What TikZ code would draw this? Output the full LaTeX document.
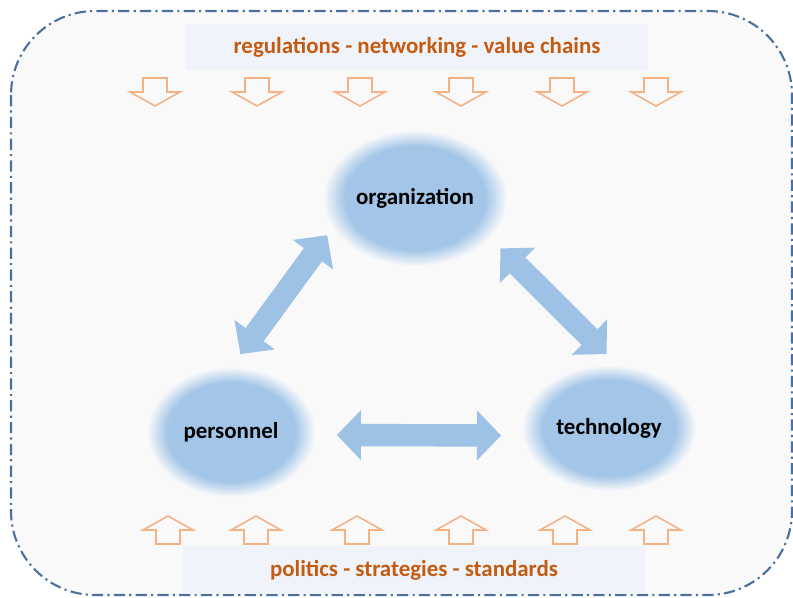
\documentclass[tikz,border=0pt]{standalone}
\usepackage{fontspec}
\setmainfont{Carlito}
\usepackage{tikz}
\usetikzlibrary{arrows.meta}
\usetikzlibrary{shapes.geometric}
\definecolor{paper}{RGB}{249,249,250}
\definecolor{bannerfill}{RGB}{240,244,250}
\definecolor{blobblue}{RGB}{162,197,232}
\definecolor{linkblue}{RGB}{157,194,230}
\definecolor{rim}{RGB}{75,112,155}
\definecolor{rust}{RGB}{197,90,17}
\definecolor{peach}{RGB}{244,177,131}
\pgfdeclareradialshading{blobfade}{\pgfpoint{0bp}{0bp}}{color(0bp)=(blobblue); color(19bp)=(blobblue); color(25bp)=(paper); color(50bp)=(paper)}

\begin{document}
\begin{tikzpicture}[
		x=0.025cm, y=-0.025cm,
		every node/.style={font=\bfseries\fontsize{16.3}{19}\selectfont},
		blob/.style={ellipse, shading=blobfade, inner sep=0pt, outer sep=0pt, text=black},
		banner/.style={fill=bannerfill, text=rust, minimum width=11.55cm, inner sep=0pt},
		link/.style={draw=linkblue, line width=0.56cm, {Triangle[length=0.6cm,width=1.25cm,line width=0pt]}-{Triangle[length=0.6cm,width=1.25cm,line width=0pt]}},
		block/.style={draw=peach, line width=1.1pt, line join=miter, fill=paper},
		pics/downblock/.style={code={\draw[block] (-12,0) -- (12,0) -- (12,14) -- (25,14) -- (0,28) -- (-25,14) -- (-12,14) -- cycle;}},
		pics/upblock/.style={code={\draw[block] (-12,0) -- (12,0) -- (12,-14) -- (25,-14) -- (0,-28) -- (-25,-14) -- (-12,-14) -- cycle;}}
	]
	\useasboundingbox (0,0) rectangle (793,597);

	% Outer frame
	\draw[rim, line width=1.5pt, dash pattern=on 8pt off 3pt on 1.5pt off 3pt, fill=paper, rounded corners=2.1cm] (11,11) rectangle (792,595);

	% Influences from above and below
	\node[banner, minimum height=1.13cm] (rules) at (417,47) {regulations - networking - value chains};
	\node[banner, minimum height=1.2cm] (basis) at (414,570) {politics - strategies - standards};
	\foreach \x in {155,257,360,461,562,656}
	\pic at (\x,78) {downblock};
	\foreach \x in {168,256,357,461,565,656}
	\pic at (\x,544) {upblock};

	% The three pillars
	\node[blob, minimum width=4.6cm, minimum height=3.4cm] (org) at (415,198) {organization};
	\node[blob, minimum width=4.2cm, minimum height=3.25cm] (pers) at (231,432) {personnel};
	\node[blob, minimum width=4.35cm, minimum height=3.15cm] (tech) at (609,428) {technology};

	% Mutual links
	\draw[link, shorten <=0.225cm, shorten >=0.4cm] (org.200) -- (pers.90);
	\draw[link, shorten <=0.38cm, shorten >=0.4cm] (org.332) -- (tech.82);
	\draw[link, shorten <=0.55cm, shorten >=0.54cm] (pers.358) -- (tech.185);

\end{tikzpicture}
\end{document}
